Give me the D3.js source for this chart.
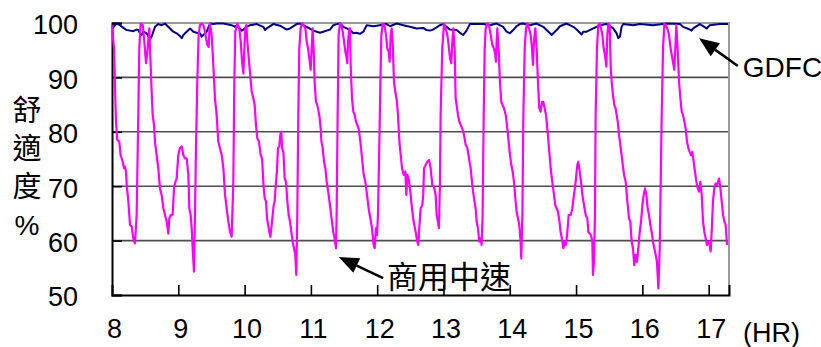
<!DOCTYPE html>
<html>
  <head>
    <meta charset="utf-8">
    <title>舒適度</title>
    <style>
      body {margin:0; background:#fff;}
      svg {display:block;}
      text {font-family:"Liberation Sans", Arial, "Noto Sans CJK TC", sans-serif; fill:#000;}
      .tick {font-size:27px;}
      .cjk {font-family:"Noto Sans CJK TC", "Noto Sans CJK JP", sans-serif;}
    </style>
    <script src="https://cdn.jsdelivr.net/npm/d3@7"></script>
  </head>
  <body>
    <svg id="chart" width="821" height="347"></svg>
    <script>
      // y ticks and x ticks (hours)
      var yTicks = [50, 60, 70, 80, 90, 100];
      var xTicks = [8, 9, 10, 11, 12, 13, 14, 15, 16, 17];

      // 商用中速: minutes after 8:00 and comfort %
      var speedMin = [
        0, 1.8, 3.0, 3.6, 4.8, 6.6, 7.8, 9.7, 10.9, 11.8,
        12.7, 13.3, 14.8, 16.3, 17.8, 19.3, 20.8, 22.3, 23.8, 24.7,
        25.9, 27.8, 29.0, 30.8, 32.0, 33.2, 33.8, 34.4, 35.9, 36.8,
        38.0, 38.9, 40.4, 41.9, 43.4, 44.9, 46.5, 48.0, 49.5, 51.0,
        51.9, 53.1, 54.9, 56.1, 57.3, 58.5, 60.0, 61.5, 63.1, 64.6,
        66.1, 67.6, 69.1, 70.0, 71.2, 72.1, 73.0, 74.2, 75.1, 76.0,
        77.2, 78.4, 79.6, 81.2, 82.7, 84.2, 85.1, 86.3, 87.5, 88.1,
        88.7, 90.2, 91.7, 93.2, 94.7, 96.2, 97.7, 99.3, 100.8, 102.3,
        103.8, 105.3, 106.8, 108.3, 109.8, 110.7, 111.6, 113.4, 115.2, 116.5,
        117.7, 118.9, 119.8, 120.7, 121.6, 122.5, 124.3, 126.4, 127.9, 129.1,
        130.3, 131.5, 133.0, 134.6,
        135.8, 137.3, 138.2, 139.4, 140.3, 141.8, 143.3, 144.2, 145.4, 146.3,
        147.2, 148.4, 149.3, 150.2, 151.4, 152.3, 153.2, 153.9, 155.1, 156.3,
        157.5, 158.7, 159.9, 161.1, 162.3, 163.5, 164.7, 165.9, 166.8, 167.7,
        168.6, 169.5, 170.7, 172.0, 173.5, 175.0, 176.2, 177.4, 178.6, 179.8,
        180.7, 181.6, 182.5, 183.4, 184.6, 185.8, 187.6, 188.9, 189.5, 190.7,
        191.9, 193.1, 194.3, 196.1, 197.6, 199.1, 200.3, 201.5, 202.7, 203.3,
        204.2, 205.1, 206.3, 207.6, 208.8, 210.0, 211.2, 212.4, 213.0, 213.6,
        214.8, 215.4, 216.0, 217.2, 218.4, 219.6, 220.8, 223.2, 224.8, 226.3,
        227.8, 229.3, 230.8, 232.3, 233.8, 235.3, 236.8, 237.7, 238.9, 239.8,
        240.7, 241.9, 242.9, 243.8, 245.0, 246.5, 248.0, 249.2, 250.4, 251.3,
        252.2, 253.1, 254.0, 255.2, 256.4, 257.9, 258.8, 260.1, 261.3, 262.5,
        264.0, 265.5, 266.4, 267.3, 268.5, 270.0, 271.5, 273.0,
        274.8, 276.3, 277.2, 278.1, 279.3, 280.8, 281.7, 282.4, 283.9, 285.4,
        286.9, 288.4, 289.9, 291.4, 292.9, 293.8, 295.0, 295.9, 296.8, 297.4,
        298.9, 300.5, 302.0, 303.5, 305.0, 305.9, 307.1, 308.0, 308.9, 310.1,
        311.0, 311.9, 313.1, 314.3, 315.5, 317.0, 318.6, 320.1, 321.6, 323.1,
        324.6, 326.1, 327.6, 329.1, 330.0, 331.2, 332.4, 333.6, 334.5, 335.4,
        336.4, 337.3, 338.2, 339.7, 341.2, 342.7, 344.2, 345.7, 346.9, 347.5,
        348.1, 348.7, 349.9, 351.1, 352.3, 353.5, 354.8, 356.3, 357.8, 359.0,
        360.2, 361.4, 362.6, 363.8, 365.3, 366.2, 367.4, 368.6, 369.8, 370.4,
        371.4, 372.3, 373.5, 374.7, 375.9, 377.4, 378.9, 380.1, 381.0, 381.9,
        383.1, 384.3, 385.5, 386.7, 387.9, 389.2, 390.4, 391.6, 392.8, 394.0,
        395.5, 397.0, 398.5, 400.0, 401.2, 402.4, 403.6, 405.0, 406.0, 407.6,
        408.5, 409.7, 410.9, 412.1, 413.3,
        415.1, 416.6, 418.1, 419.6, 421.1, 422.0, 423.3, 424.5, 425.7, 427.2,
        428.7, 430.2, 431.1, 432.3, 433.5, 434.7, 435.3, 436.2, 437.1, 437.7,
        438.9, 440.1, 441.4, 442.6, 443.8, 445.0, 446.2, 447.4, 448.3, 449.2,
        450.4, 451.3, 452.2, 453.4, 454.6, 455.8, 456.7, 457.7, 458.9, 460.4,
        461.9, 463.4, 464.9, 466.4, 467.9, 469.1, 470.3, 471.5, 472.7, 473.9,
        475.1, 476.4, 477.6, 478.8, 480.0, 481.2, 482.4, 483.6, 484.8, 486.0,
        487.2, 488.4, 489.6, 490.8, 492.0, 493.2, 494.5, 495.7, 496.6, 497.5,
        498.7, 499.9, 501.1, 502.6, 504.1, 505.6, 507.1, 508.9, 510.1, 510.7,
        511.9, 513.2, 514.4, 515.6, 516.8, 518.0, 519.2, 520.4, 521.6, 522.8,
        524.0, 525.2, 526.4, 527.6, 528.9, 530.1, 531.3, 532.5, 533.7, 534.9,
        536.1, 537.3, 538.5, 539.7, 540.9, 541.8, 542.7, 543.9, 545.1, 546.3,
        547.6, 549.4, 550.6, 551.8, 553.0, 554.2, 555.4, 556.6
      ];
      var speedVal = [
        99.6, 95.3, 86.2, 81.9, 78.5, 78.2, 75.7, 74.5, 73.3, 73.6,
        72.7, 70.2, 67.2, 62.9, 62.6, 60.4, 59.5, 64.7, 83.1, 95.3,
        99.9, 99.6, 97.2, 92.6, 94.7, 97.8, 99.0, 95.3, 87.4, 83.1,
        81.3, 78.2, 75.7, 73.3, 69.6, 68.4, 65.9, 64.7, 63.5, 61.3,
        64.1, 64.7, 64.7, 69.6, 70.8, 71.4, 75.7, 77.0, 77.3, 75.7,
        75.1, 75.1, 72.1, 65.9, 64.7, 62.3, 58.6, 54.3, 64.7, 77.0,
        89.2, 97.8, 99.6, 99.9, 99.6, 98.4, 97.2, 96.0, 95.6, 98.4,
        99.9, 97.8, 92.3, 86.2, 83.1, 78.2, 77.0, 75.7, 73.3, 68.4,
        65.9, 63.5, 61.6, 60.7, 70.8, 89.2, 98.4, 99.9, 99.0, 96.6,
        92.9, 90.7, 95.3, 99.0, 99.6, 96.6, 92.3, 87.4, 86.2, 84.9,
        81.3, 78.8, 78.2, 75.7,
        75.1, 69.6, 67.8, 67.2, 64.1, 62.3, 60.7, 62.3, 64.7, 66.5,
        67.2, 70.8, 72.7, 77.0, 77.3, 79.4, 80.0, 77.0, 76.3, 71.4,
        70.8, 67.2, 64.7, 63.5, 61.6, 59.8, 58.6, 57.4, 53.7, 64.7,
        83.1, 95.3, 99.0, 100, 99.6, 99.0, 96.6, 95.3, 93.5, 91.4,
        95.3, 99.0, 95.3, 89.2, 85.5, 84.9, 83.1, 80.6, 78.2, 77.0,
        74.5, 73.3, 70.8, 68.4, 65.9, 63.5, 61.6, 60.4, 58.6, 64.7,
        83.1, 97.8, 99.9, 99.6, 98.4, 96.6, 94.7, 93.5, 92.6, 96.6,
        99.0, 99.0, 92.3, 86.2, 83.7, 83.1, 81.9, 80.6, 78.2, 75.1,
        72.1, 70.8, 68.4, 65.9, 64.1, 62.3, 59.2, 58.6, 62.3, 61.0,
        64.7, 77.0, 89.2, 97.8, 99.9, 99.6, 97.8, 95.3, 94.7, 92.9,
        97.8, 99.0, 96.6, 89.2, 87.4, 85.5, 83.1, 78.2, 75.7, 73.3,
        72.1, 72.7, 68.4, 72.1, 71.4, 69.0, 65.9, 63.5,
        61.6, 59.8, 59.2, 62.3, 65.9, 66.5, 68.4, 73.3, 73.9, 74.5,
        74.8, 73.3, 70.2, 69.9, 68.4, 64.7, 63.5, 62.3, 70.8, 83.1,
        95.3, 99.9, 99.0, 97.8, 95.3, 93.5, 92.6, 96.6, 99.0, 95.3,
        86.2, 84.9, 83.1, 81.9, 81.3, 80.6, 79.4, 77.6, 77.0, 75.1,
        73.3, 70.2, 67.8, 65.9, 63.5, 62.3, 59.8, 60.4, 59.2, 64.7,
        83.1, 95.3, 99.0, 99.9, 99.6, 97.8, 96.0, 95.3, 94.1, 92.9,
        96.6, 99.0, 95.3, 89.2, 85.5, 84.9, 84.3, 83.1, 80.6, 78.2,
        75.7, 73.9, 72.7, 70.8, 67.2, 65.3, 64.1, 62.9, 59.8, 56.7,
        64.7, 83.1, 95.3, 99.0, 99.9, 99.0, 97.8, 95.3, 92.3, 96.6,
        99.0, 95.3, 89.2, 84.3, 83.7, 85.5, 85.5, 84.3, 83.1, 80.6,
        77.0, 73.3, 70.8, 68.4, 66.5, 65.9, 65.3, 63.5, 61.6, 59.8,
        58.6, 59.8, 59.2, 61.6, 64.7,
        64.7, 65.9, 68.4, 70.8, 73.9, 74.5, 72.7, 70.8, 68.4, 66.5,
        64.7, 64.1, 61.6, 61.3, 61.0, 59.8, 53.7, 56.1, 64.7, 83.1,
        95.3, 99.6, 99.9, 99.0, 97.8, 95.3, 94.1, 92.0, 97.8, 99.9,
        99.6, 92.3, 89.2, 86.8, 84.9, 84.3, 83.1, 81.9, 79.4, 77.0,
        74.5, 72.1, 70.8, 67.2, 64.1, 63.5, 59.8, 58.6, 55.5, 57.4,
        56.1, 58.6, 61.6, 63.5, 66.5, 68.4, 69.6, 68.4, 65.9, 64.7,
        62.9, 61.6, 59.8, 58.6, 57.4, 56.1, 51.2, 58.6, 70.8, 83.1,
        95.3, 99.9, 99.6, 99.0, 97.8, 95.3, 93.5, 91.4, 96.6, 99.6,
        95.3, 89.2, 86.2, 83.7, 83.1, 81.9, 80.6, 78.2, 77.0, 76.3,
        75.7, 76.3, 74.5, 72.7, 70.8, 69.6, 69.0, 70.8, 68.4, 63.5,
        61.6, 60.4, 59.2, 59.8, 59.2, 58.0, 61.6, 67.2, 69.6, 70.5,
        70.2, 71.4, 69.6, 67.2, 64.7, 63.5, 62.9, 59.2
      ];

      // GDFC: minutes after 8:00 and comfort %
      var gdfcMin = [
        0, 4.2, 7.2, 10.3, 13.3, 16.3, 19.3, 22.3, 23.8, 25.3,
        26.8, 28.4, 31.4, 32.9, 34.4, 35.9, 37.4, 38.9, 41.9, 45.0,
        48.0, 49.5, 52.5, 55.5, 58.5, 61.5, 63.1, 64.6, 66.1, 67.6,
        70.6, 72.1, 73.6, 76.6, 79.6, 81.2, 82.7, 85.7, 88.7, 91.7,
        94.7, 100.8, 108.3, 111.3, 112.8, 115.8, 117.3, 118.9, 121.9, 124.9,
        130.9, 137.0, 138.5, 140.0, 146.0, 152.0, 158.1, 161.1, 167.1, 170.1,
        176.2, 182.2, 188.2, 191.2, 194.3, 197.3, 200.3, 203.3, 206.3, 209.4,
        212.4, 215.4, 218.4, 221.4, 224.4, 227.5, 230.5, 236.5, 242.5, 248.6,
        251.6, 257.6, 263.6, 269.7, 275.7, 281.7, 284.7, 287.7, 290.8, 296.8,
        299.8, 305.8, 311.9, 314.9, 317.9, 320.9, 323.9, 330.0, 336.0, 342.0,
        348.0, 354.0, 357.1, 360.1, 363.1, 366.1, 369.1, 372.2, 378.3, 384.3,
        390.3, 393.3, 396.4, 397.9, 399.4, 402.4, 405.4, 411.4, 417.5, 420.5,
        423.5, 425.0, 426.5, 429.5, 435.6, 441.6, 447.6, 453.6, 456.7, 458.2,
        459.7, 461.2, 462.7, 471.7, 477.7, 489.8, 501.9, 513.9, 516.9, 522.9,
        524.4, 526.0, 532.0, 538.2, 541.0, 550.1, 557.5
      ];
      var gdfcVal = [
        99.0, 99.9, 99.6, 99.1, 98.7, 98.6, 98.5, 98.8, 98.7, 98.1,
        97.8, 98.4, 98.1, 97.5, 97.0, 97.5, 98.4, 99.3, 99.8, 99.6,
        99.9, 99.6, 99.0, 98.4, 98.1, 97.6, 97.2, 97.8, 98.1, 98.4,
        99.0, 98.7, 98.4, 98.2, 98.1, 97.5, 97.8, 98.4, 99.9, 99.8,
        99.9, 99.9, 99.6, 99.3, 99.6, 99.0, 98.6, 98.8, 99.3, 99.6,
        99.8, 99.3, 98.7, 99.0, 99.8, 99.5, 98.8, 99.0, 99.8, 99.9,
        99.3, 98.6, 98.2, 98.4, 98.6, 98.8, 99.6, 99.8, 99.9, 99.3,
        99.0, 98.7, 98.1, 98.2, 98.0, 98.4, 99.6, 99.4, 99.6, 99.8,
        99.4, 99.9, 99.6, 99.3, 99.0, 99.1, 98.7, 98.6, 98.8, 99.6,
        99.8, 98.8, 98.7, 98.2, 97.8, 98.6, 99.8, 99.8, 99.8, 99.6,
        99.9, 99.3, 98.4, 98.1, 98.7, 99.4, 99.8, 99.9, 99.6, 99.9,
        99.3, 98.7, 98.1, 97.8, 98.1, 98.7, 99.4, 99.9, 99.3, 98.8,
        98.2, 97.9, 98.4, 98.4, 99.0, 99.6, 99.8, 99.0, 98.1, 97.2,
        97.5, 99.3, 99.8, 99.6, 99.8, 99.6, 99.9, 99.8, 99.3, 98.8,
        98.6, 99.0, 99.8, 99.0, 99.6, 99.8, 99.8
      ];

      var svg = d3.select("#chart");
      var margin = {top: 23, bottom: 52, left: 112, right: 92};
      var svgWidth = 821, svgHeight = 347;

      var x = d3.scaleLinear()
                .domain([8, 8 + 558.4 / 60])
                .range([margin.left, svgWidth - margin.right]);
      var y = d3.scaleLinear()
                .domain([50, 100])
                .range([svgHeight - margin.bottom, margin.top]);

      // horizontal gridlines
      svg.append("g")
         .selectAll("line")
         .data(yTicks.filter(function(d) {return d > 50 && d < 100;}))
         .enter()
         .append("line")
         .attr("x1", x.range()[0]).attr("x2", x.range()[1])
         .attr("y1", function(d) {return y(d);})
         .attr("y2", function(d) {return y(d);})
         .style("stroke", "#4d4d4d").style("stroke-width", 1.6);

      // plot frame: top/right gray
      svg.append("path")
         .attr("d", "M" + x.range()[0] + "," + y(100) + "H" + x.range()[1] + "V" + y(50))
         .style("fill", "none").style("stroke", "#9a9a9a").style("stroke-width", 2);

      // axes
      var yAxis = d3.axisLeft(y).tickValues(yTicks).tickSize(-10).tickPadding(34);
      var xAxis = d3.axisBottom(x).tickValues(xTicks).tickSize(-10).tickPadding(24)
                    .tickFormat(d3.format("d"));

      var gy = svg.append("g").attr("transform", "translate(" + margin.left + ",0)").call(yAxis);
      var gx = svg.append("g").attr("transform", "translate(0," + y(50) + ")").call(xAxis);
      [gx, gy].forEach(function(g) {
        g.select(".domain").style("stroke", "#000").style("stroke-width", 2);
        g.selectAll(".tick line").style("stroke", "#000").style("stroke-width", 1.6);
        g.selectAll(".tick text").attr("class", "tick").style("font-size", "27px")
         .style("font-family", "Liberation Sans, Arial, sans-serif");
      });
      gy.selectAll(".tick text").attr("dy", "0.4em");
      gx.selectAll(".tick text").attr("dx", 2);
      gx.selectAll(".tick").filter(function(d) {return d === 8;}).select("line").remove();

      var lineGen = d3.line()
                      .x(function(d) {return x(8 + d[0] / 60);})
                      .y(function(d) {return y(d[1]);});

      var gdfcData = gdfcMin.map(function(t, i) {return [t, gdfcVal[i]];});
      var speedData = speedMin.map(function(t, i) {return [t, speedVal[i]];});

      svg.append("path")
         .datum(gdfcData)
         .attr("d", lineGen)
         .style("fill", "none").style("stroke", "#000080").style("stroke-width", 2)
         .style("stroke-linejoin", "round");

      svg.append("path")
         .datum(speedData)
         .attr("d", lineGen)
         .style("fill", "none").style("stroke", "#ff00ff").style("stroke-width", 2.2)
         .style("stroke-linejoin", "round");

      // arrows
      function arrow(x1, y1, x2, y2) {
        var ang = Math.atan2(y2 - y1, x2 - x1);
        var len = 20, half = 8;
        var bx = x2 - len * Math.cos(ang), by = y2 - len * Math.sin(ang);
        svg.append("line")
           .attr("x1", x1).attr("y1", y1).attr("x2", bx).attr("y2", by)
           .style("stroke", "#000").style("stroke-width", 2.5);
        svg.append("path")
           .attr("d", "M" + x2 + "," + y2 +
                      "L" + (bx + half * Math.sin(ang)) + "," + (by - half * Math.cos(ang)) +
                      "L" + (bx - half * Math.sin(ang)) + "," + (by + half * Math.cos(ang)) + "Z")
           .style("fill", "#000");
      }
      arrow(x(17.44), y(92.1), x(16.855), y(97.2));
      arrow(x(12.09), y(53.1), x(11.42), y(57.0));

      svg.append("text").attr("x", x(17.44) + 5).attr("y", 77)
         .style("font-size", "28px").text("GDFC");
      svg.append("text").attr("class", "cjk").attr("x", 387).attr("y", 288)
         .style("font-size", "31px").text("商用中速");
      svg.append("text").attr("x", 743).attr("y", 342)
         .style("font-size", "27px").text("(HR)");

      // vertical y-axis title
      var yTitle = ["舒", "適", "度", "%"];
      svg.append("g").selectAll("text")
         .data(yTitle)
         .enter()
         .append("text")
         .attr("class", "cjk")
         .attr("x", 27)
         .attr("y", function(d, i) {return 111 + i * 38;})
         .attr("dy", "0.36em")
         .attr("text-anchor", "middle")
         .style("font-size", function(d) {return d === "%" ? "28px" : "29px";})
         .style("font-family", function(d) {return d === "%" ? "Liberation Sans, Arial" : null;})
         .text(function(d) {return d;});
    </script>
  </body>
</html>
